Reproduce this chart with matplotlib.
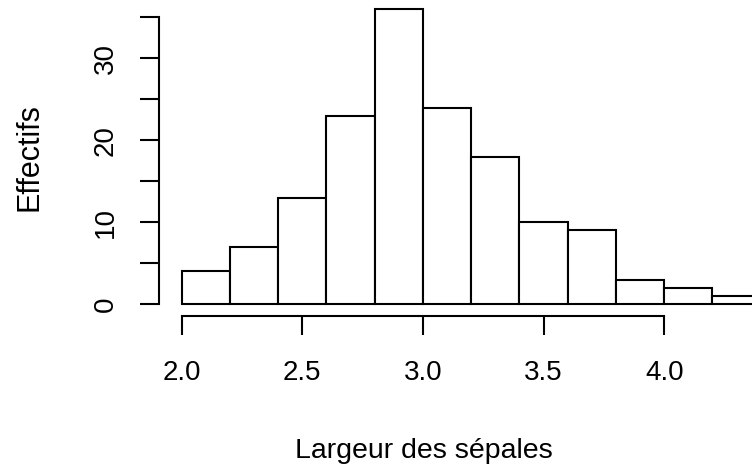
import numpy as np
import matplotlib
matplotlib.use("Agg")
import matplotlib.pyplot as plt

plt.rcParams['font.family'] = ['Liberation Sans', 'DejaVu Sans']

# iris sepal width histogram, bins of 0.2
bin_edges = [2.0, 2.2, 2.4, 2.6, 2.8, 3.0, 3.2, 3.4, 3.6, 3.8, 4.0, 4.2, 4.4]
counts = [4, 7, 13, 23, 36, 24, 18, 10, 9, 3, 2, 1]
x_ticks = [2.0, 2.5, 3.0, 3.5, 4.0]
y_ticks = [0, 5, 10, 15, 20, 25, 30, 35]
y_labels = ["0", "", "10", "", "20", "", "30", ""]

fig = plt.figure(figsize=(7.52, 4.67), dpi=100)
ax = fig.add_axes([158.5 / 752, (467 - 316.1) / 467, 625.4 / 752, 318.8 / 467])

lefts = np.array(bin_edges[:-1])
widths = np.diff(bin_edges)
ax.bar(lefts, counts, width=widths, align='edge', facecolor='white',
       edgecolor='black', linewidth=1.5)

ax.set_xlim(1.904, 4.496)
ax.set_ylim(-1.44, 37.44)

for s in ['top', 'right']:
    ax.spines[s].set_visible(False)
ax.spines['left'].set_bounds(0, 35)
ax.spines['bottom'].set_bounds(2.0, 4.0)
for s in ['left', 'bottom']:
    ax.spines[s].set_linewidth(1.5)

ax.set_xticks(x_ticks)
ax.set_xticklabels([f"{t:.1f}" for t in x_ticks])
ax.set_yticks(y_ticks)
ax.set_yticklabels(y_labels, rotation=90, va='center')
ax.tick_params(axis='both', direction='out', length=13.7, width=1.5,
               labelsize=20)
ax.tick_params(axis='x', pad=18)
ax.tick_params(axis='y', pad=15)

fig.text(37 / 752, 1 - 157 / 467, "Effectifs", rotation=90, fontsize=22,
         ha='center', va='baseline', rotation_mode='anchor')
fig.text(424 / 752, 1 - 458.5 / 467, "Largeur des sépales", fontsize=20.5,
         ha='center', va='baseline')

fig.savefig("out.png", dpi=100)
